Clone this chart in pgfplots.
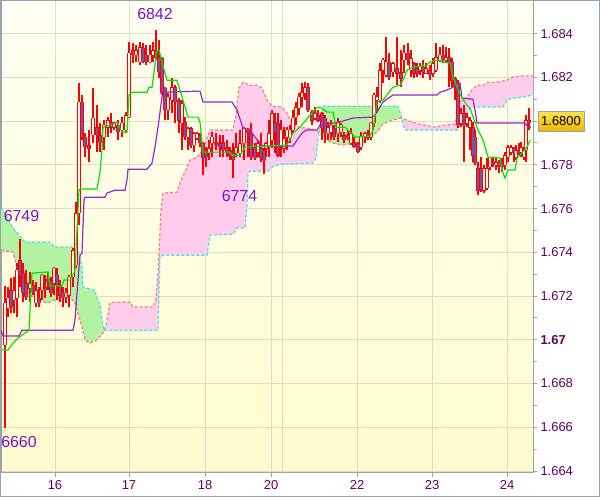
\documentclass[border=0pt]{standalone}
\usepackage{pgfplots}
\pgfplotsset{compat=1.18}
\usepackage{pgfplotstable}
\usepackage{fontspec}
\setmainfont{Liberation Sans}

\definecolor{bgtop}{RGB}{255,255,242}
\definecolor{bgbot}{RGB}{255,251,206}
\definecolor{gridc}{RGB}{222,222,198}
\definecolor{framec}{RGB}{152,164,172}
\definecolor{lblc}{RGB}{96,0,96}
\definecolor{annc}{RGB}{128,16,200}
\definecolor{cloudg}{RGB}{178,242,160}
\definecolor{cloudp}{RGB}{255,204,236}
\definecolor{spanS}{RGB}{240,128,128}
\definecolor{spanC}{RGB}{64,224,240}
\definecolor{tenkan}{RGB}{0,228,0}
\definecolor{kijun}{RGB}{150,40,200}
\definecolor{downfill}{RGB}{125,80,160}
\definecolor{upfill}{RGB}{255,253,228}
\definecolor{goldtop}{RGB}{255,226,80}
\definecolor{goldbot}{RGB}{238,182,0}

\pgfplotstableread{
x o h l c
5 1.66976 1.67246 1.66596 1.67168
8 1.67145 1.67241 1.67104 1.67191
11 1.67227 1.67282 1.67122 1.67150
14 1.67182 1.67287 1.67122 1.67227
17 1.67191 1.67351 1.67104 1.67319
20 1.67364 1.67460 1.67241 1.67296
23 1.67305 1.67351 1.67172 1.67214
26 1.67259 1.67319 1.67182 1.67195
30 1.67236 1.67310 1.67172 1.67259
33 1.67250 1.67273 1.67204 1.67218
36 1.67168 1.67264 1.67150 1.67227
39 1.67191 1.67241 1.67150 1.67168
42 1.67227 1.67300 1.67182 1.67296
45 1.67241 1.67296 1.67191 1.67227
48 1.67278 1.67310 1.67227 1.67264
51 1.67264 1.67287 1.67195 1.67214
54 1.67259 1.67332 1.67204 1.67328
57 1.67296 1.67328 1.67182 1.67250
60 1.67250 1.67273 1.67172 1.67204
63 1.67214 1.67241 1.67150 1.67195
66 1.67195 1.67236 1.67168 1.67214
69 1.67204 1.67296 1.67150 1.67287
73 1.67287 1.67419 1.67241 1.67410
76 1.67342 1.67630 1.67328 1.67579
79 1.67579 1.68174 1.67524 1.68087
82 1.68087 1.68119 1.67913 1.67927
85 1.67927 1.67945 1.67835 1.67881
89 1.67890 1.67959 1.67812 1.67876
93 1.67936 1.68151 1.67899 1.68014
97 1.67972 1.68073 1.67858 1.67936
100 1.67936 1.67991 1.67858 1.67899
104 1.67927 1.68004 1.67867 1.67982
108 1.67972 1.68018 1.67927 1.68004
111 1.67995 1.68036 1.67945 1.67972
114 1.67972 1.67995 1.67959 1.67991
118 1.67982 1.68004 1.67913 1.67950
122 1.67959 1.68018 1.67927 1.67991
126 1.67959 1.68041 1.67945 1.68027
129 1.68018 1.68361 1.68014 1.68311
133 1.68324 1.68357 1.68265 1.68302
136 1.68302 1.68347 1.68270 1.68324
140 1.68270 1.68361 1.68256 1.68338
143 1.68334 1.68357 1.68265 1.68270
146 1.68302 1.68347 1.68256 1.68270
150 1.68270 1.68347 1.68265 1.68302
153 1.68302 1.68361 1.68270 1.68324
156 1.68324 1.68416 1.68279 1.68292
159 1.68292 1.68370 1.68196 1.68224
162 1.68288 1.68292 1.68119 1.68132
165 1.68151 1.68155 1.68004 1.68050
168 1.68050 1.68128 1.68004 1.68110
172 1.68096 1.68196 1.68036 1.68155
175 1.68155 1.68164 1.67991 1.68087
179 1.68096 1.68105 1.67945 1.68004
182 1.67991 1.68096 1.67867 1.68082
185 1.67995 1.68018 1.67913 1.67927
188 1.67927 1.67972 1.67867 1.67968
191 1.67968 1.67972 1.67876 1.67890
194 1.67890 1.67950 1.67858 1.67945
197 1.67922 1.67950 1.67913 1.67945
200 1.67936 1.67945 1.67881 1.67899
203 1.67899 1.67904 1.67753 1.67831
206 1.67867 1.67881 1.67790 1.67835
209 1.67854 1.67913 1.67822 1.67876
212 1.67899 1.67950 1.67835 1.67927
216 1.67904 1.67945 1.67867 1.67890
220 1.67899 1.67936 1.67835 1.67881
223 1.67904 1.67936 1.67835 1.67867
227 1.67881 1.67913 1.67835 1.67854
230 1.67867 1.67881 1.67822 1.67844
233 1.67858 1.67899 1.67739 1.67822
236 1.67854 1.67945 1.67835 1.67881
240 1.67854 1.67959 1.67835 1.67899
244 1.67899 1.67972 1.67822 1.67968
248 1.67959 1.67968 1.67835 1.67945
251 1.67945 1.67991 1.67822 1.67835
255 1.67881 1.67899 1.67822 1.67831
258 1.67858 1.67913 1.67835 1.67899
261 1.67876 1.67945 1.67812 1.67831
264 1.67867 1.67876 1.67758 1.67822
266 1.67876 1.67904 1.67835 1.67899
269 1.67881 1.68004 1.67835 1.67945
272 1.67913 1.68050 1.67876 1.68036
275 1.67995 1.68036 1.67854 1.67950
278 1.67991 1.68036 1.67835 1.67844
281 1.67890 1.68004 1.67835 1.67959
284 1.67876 1.67972 1.67854 1.67922
287 1.67927 1.67972 1.67867 1.67959
290 1.67922 1.67982 1.67899 1.67959
293 1.67959 1.68050 1.67945 1.68014
296 1.68018 1.68087 1.67982 1.68064
299 1.68059 1.68128 1.68027 1.68110
302 1.68110 1.68174 1.68064 1.68132
305 1.68128 1.68178 1.68096 1.68155
308 1.68155 1.68174 1.68041 1.68050
312 1.68041 1.68050 1.67982 1.68004
315 1.68014 1.68064 1.68004 1.68036
318 1.68027 1.68050 1.67995 1.68004
322 1.68036 1.68041 1.67913 1.67968
325 1.68014 1.68027 1.67899 1.67945
328 1.67945 1.67995 1.67913 1.67972
331 1.67950 1.68004 1.67913 1.67982
334 1.67968 1.67982 1.67913 1.67927
338 1.67945 1.68014 1.67904 1.67995
341 1.67950 1.67991 1.67927 1.67982
344 1.67936 1.67950 1.67899 1.67913
348 1.67936 1.67959 1.67913 1.67922
351 1.67899 1.67968 1.67890 1.67945
354 1.67904 1.67927 1.67876 1.67881
358 1.67899 1.67904 1.67854 1.67858
361 1.67881 1.67950 1.67867 1.67927
365 1.67927 1.67950 1.67899 1.67945
368 1.67945 1.67959 1.67913 1.67922
371 1.67927 1.67995 1.67913 1.67991
374 1.67991 1.68128 1.67972 1.68119
377 1.68096 1.68155 1.68036 1.68110
380 1.68096 1.68265 1.68082 1.68233
383 1.68233 1.68288 1.68174 1.68279
386 1.68210 1.68384 1.68201 1.68270
389 1.68270 1.68311 1.68187 1.68201
393 1.68224 1.68270 1.68201 1.68265
397 1.68242 1.68384 1.68164 1.68219
401 1.68224 1.68324 1.68155 1.68196
404 1.68279 1.68347 1.68219 1.68311
408 1.68311 1.68357 1.68256 1.68279
411 1.68233 1.68324 1.68201 1.68288
414 1.68265 1.68270 1.68196 1.68219
417 1.68242 1.68265 1.68201 1.68219
420 1.68233 1.68265 1.68210 1.68247
423 1.68247 1.68279 1.68196 1.68224
426 1.68219 1.68265 1.68219 1.68242
430 1.68233 1.68256 1.68187 1.68210
433 1.68219 1.68288 1.68201 1.68265
436 1.68233 1.68357 1.68224 1.68292
440 1.68279 1.68338 1.68270 1.68302
443 1.68302 1.68347 1.68265 1.68279
446 1.68279 1.68338 1.68270 1.68292
449 1.68292 1.68334 1.68155 1.68265
452 1.68270 1.68288 1.68155 1.68187
455 1.68196 1.68201 1.68096 1.68164
458 1.68174 1.68187 1.67968 1.67982
461 1.67991 1.68059 1.67972 1.68036
464 1.68036 1.68073 1.67812 1.67982
467 1.67991 1.68036 1.67972 1.68018
470 1.67972 1.68018 1.67867 1.68004
473 1.67972 1.67995 1.67812 1.67844
475 1.67927 1.67959 1.67799 1.67808
478 1.67785 1.67812 1.67662 1.67684
481 1.67785 1.67835 1.67675 1.67684
484 1.67684 1.67799 1.67671 1.67785
487 1.67694 1.67831 1.67684 1.67785
490 1.67790 1.67835 1.67776 1.67831
493 1.67812 1.67835 1.67790 1.67799
496 1.67799 1.67831 1.67776 1.67812
499 1.67812 1.67822 1.67762 1.67790
502 1.67808 1.67831 1.67767 1.67790
505 1.67799 1.67858 1.67776 1.67844
508 1.67835 1.67890 1.67812 1.67881
511 1.67858 1.67890 1.67844 1.67881
514 1.67876 1.67881 1.67812 1.67854
516 1.67835 1.67890 1.67822 1.67867
519 1.67867 1.67899 1.67844 1.67854
521 1.67858 1.67904 1.67835 1.67881
524 1.67835 1.67881 1.67822 1.67867
526 1.67867 1.68027 1.67812 1.68004
529 1.68004 1.68059 1.67959 1.67991
}\candles

\pgfplotstableread{
x p
2 1.66953
8 1.66953
13 1.66985
18 1.67008
29 1.67044
31 1.67227
32 1.67305
48 1.67310
50 1.67246
62 1.67246
64 1.67273
70 1.67273
72 1.67287
75 1.67319
77 1.67502
79 1.67684
80 1.67689
97 1.67689
100 1.67767
102 1.67867
103 1.67972
113 1.67986
117 1.67995
122 1.67950
127 1.67950
129 1.68119
132 1.68132
147 1.68132
149 1.68155
152 1.68155
157 1.68324
159 1.68324
162 1.68270
167 1.68187
177 1.68187
182 1.68110
188 1.68018
198 1.68018
200 1.67995
203 1.67858
230 1.67858
232 1.67844
240 1.67844
245 1.67881
287 1.67890
293 1.67945
300 1.67972
310 1.68027
316 1.68059
320 1.68064
327 1.68041
333 1.68041
336 1.67972
345 1.67972
348 1.67959
355 1.67927
370 1.67931
373 1.67959
377 1.68087
383 1.68096
393 1.68155
400 1.68164
403 1.68187
407 1.68233
413 1.68247
427 1.68256
430 1.68270
437 1.68279
443 1.68270
450 1.68265
453 1.68201
457 1.68155
462 1.68105
467 1.68073
470 1.68059
475 1.67995
478 1.67959
483 1.67913
488 1.67835
500 1.67831
502 1.67776
505 1.67739
508 1.67776
515 1.67776
517 1.67831
520 1.67844
527 1.67881
530 1.67913
}\tenkan

\pgfplotstableread{
x p
1 1.67044
3 1.67017
19 1.67017
22 1.67044
73 1.67044
75 1.67090
78 1.67273
80 1.67387
82 1.67396
84 1.67639
85 1.67652
105 1.67652
107 1.67671
115 1.67684
125 1.67684
127 1.67730
128 1.67780
147 1.67780
152 1.67808
155 1.67881
158 1.67972
162 1.68110
163 1.68132
200 1.68137
203 1.68087
232 1.68087
237 1.68050
243 1.67968
250 1.67959
255 1.67927
260 1.67899
263 1.67886
293 1.67886
297 1.67913
303 1.67950
307 1.67959
317 1.67959
320 1.67982
328 1.67986
343 1.68000
353 1.68014
373 1.68018
377 1.68041
383 1.68087
390 1.68110
393 1.68119
437 1.68119
440 1.68132
447 1.68142
453 1.68155
458 1.68174
460 1.68174
462 1.68105
473 1.68100
475 1.68050
477 1.67991
525 1.67991
528 1.67972
531 1.67972
}\kijun

\pgfplotstableread{
x p
1 1.67410
13 1.67401
17 1.67332
23 1.67227
33 1.67195
47 1.67168
60 1.67191
70 1.67195
75 1.67168
78 1.67122
82 1.67058
85 1.66999
90 1.66985
97 1.66999
103 1.67031
106 1.67067
110 1.67168
113 1.67172
130 1.67172
133 1.67150
153 1.67150
156 1.67182
158 1.67296
161 1.67593
163 1.67671
177 1.67675
180 1.67721
185 1.67767
190 1.67822
197 1.67835
203 1.67867
207 1.67922
210 1.67959
233 1.67959
236 1.68027
239 1.68151
243 1.68178
250 1.68164
257 1.68164
262 1.68151
267 1.68096
272 1.68068
282 1.68064
287 1.68036
292 1.67986
300 1.67972
313 1.67963
320 1.67945
323 1.67927
327 1.67913
333 1.67899
343 1.67890
353 1.67899
363 1.67904
370 1.67927
377 1.67950
382 1.67982
387 1.67995
393 1.68004
400 1.68014
407 1.68004
415 1.67991
425 1.67982
435 1.67972
445 1.67982
455 1.67986
460 1.68087
467 1.68110
472 1.68142
477 1.68164
483 1.68164
488 1.68178
497 1.68178
507 1.68187
513 1.68201
520 1.68206
533 1.68206
}\spanS

\pgfplotstableread{
x p
1 1.67607
13 1.67511
25 1.67447
50 1.67447
55 1.67424
72 1.67424
78 1.67410
82 1.67332
83 1.67241
95 1.67227
97 1.67191
100 1.67159
102 1.67090
104 1.67044
158 1.67044
159 1.67227
160 1.67387
207 1.67387
210 1.67479
233 1.67483
237 1.67511
245 1.67511
247 1.67616
248 1.67762
250 1.67771
268 1.67771
272 1.67790
280 1.67803
313 1.67808
316 1.67831
318 1.67913
320 1.67982
323 1.68068
398 1.68068
401 1.68027
404 1.67968
407 1.67959
457 1.67959
462 1.67991
467 1.68041
472 1.68064
503 1.68064
507 1.68096
513 1.68105
523 1.68110
533 1.68119
}\spanC

% cloud areas (span S and span C between their crossings)
\pgfplotstableread{
x p
1 1.67410
13 1.67401
17 1.67332
23 1.67227
33 1.67195
47 1.67168
60 1.67191
70 1.67195
75 1.67168
78 1.67122
82 1.67058
85 1.66999
90 1.66985
97 1.66999
103 1.67031
104 1.67044
102 1.67090
100 1.67159
97 1.67191
95 1.67227
83 1.67241
82 1.67332
78 1.67410
72 1.67424
55 1.67424
50 1.67447
25 1.67447
13 1.67511
1 1.67607
}\cloudA

\pgfplotstableread{
x p
104 1.67044
106 1.67067
110 1.67168
113 1.67172
130 1.67172
133 1.67150
153 1.67150
156 1.67182
158 1.67296
161 1.67593
163 1.67671
177 1.67675
180 1.67721
185 1.67767
190 1.67822
197 1.67835
203 1.67867
207 1.67922
210 1.67959
233 1.67959
236 1.68027
239 1.68151
243 1.68178
250 1.68164
257 1.68164
262 1.68151
267 1.68096
272 1.68068
282 1.68064
287 1.68036
292 1.67986
300 1.67972
313 1.67963
319 1.67948
318 1.67913
316 1.67831
313 1.67808
280 1.67803
272 1.67790
268 1.67771
250 1.67771
248 1.67762
247 1.67616
245 1.67511
237 1.67511
233 1.67483
210 1.67479
207 1.67387
160 1.67387
159 1.67227
158 1.67044
}\cloudB

\pgfplotstableread{
x p
319 1.67948
320 1.67982
323 1.68068
398 1.68068
401 1.68027
402 1.68010
400 1.68014
393 1.68004
387 1.67995
382 1.67982
377 1.67950
370 1.67927
363 1.67904
353 1.67899
343 1.67890
333 1.67899
327 1.67913
323 1.67927
320 1.67945
}\cloudC

\pgfplotstableread{
x p
402 1.68010
407 1.68004
415 1.67991
425 1.67982
435 1.67972
445 1.67982
455 1.67986
460 1.68087
467 1.68110
472 1.68142
477 1.68164
483 1.68164
488 1.68178
497 1.68178
507 1.68187
513 1.68201
520 1.68206
533 1.68206
533 1.68119
523 1.68110
513 1.68105
507 1.68096
503 1.68064
472 1.68064
467 1.68041
462 1.67991
457 1.67959
407 1.67959
404 1.67968
}\cloudD

\begin{document}
\begin{tikzpicture}
\useasboundingbox (0,0) rectangle (600bp,497bp);
\fill[white] (0,0) rectangle (600bp,497bp);
\begin{axis}[
  at={(1bp,24bp)}, anchor=south west,
  scale only axis, width=532bp, height=472bp,
  xmin=1, xmax=533, ymin=1.66391, ymax=1.68549,
  axis background/.style={top color=bgtop, bottom color=bgbot},
  axis line style={draw=framec, line width=1bp},
  xtick={55,129,205,271,357,432,507},
  xticklabels={16,17,18,20,22,23,24},
  extra x ticks={282}, extra x tick labels={},
  extra x tick style={major tick length=0pt},
  ytick={1.664,1.666,1.668,1.670,1.672,1.674,1.676,1.678,1.680,1.682,1.684},
  yticklabels={1.664,1.666,1.668,\textbf{1.67},1.672,1.674,1.676,1.678,{},1.682,1.684},
  minor y tick num=1,
  scaled y ticks=false,
  tick align=outside, xtick pos=bottom, ytick pos=right,
  major tick length=4bp, minor tick length=4bp,
  tick style={draw=framec, line width=1bp},
  grid=major, major grid style={draw=gridc, line width=1bp},
  ticklabel style={font=\fontsize{13}{15}\selectfont, text=lblc},
]
% cloud
\addplot [fill=cloudg, draw=none] table [x=x, y=p] {\cloudA};
\addplot [fill=cloudp, draw=none] table [x=x, y=p] {\cloudB};
\addplot [fill=cloudg, draw=none] table [x=x, y=p] {\cloudC};
\addplot [fill=cloudp, draw=none] table [x=x, y=p] {\cloudD};
\addplot [spanS, line width=1.2bp, dash pattern=on 3bp off 2bp] table [x=x, y=p] {\spanS};
\addplot [spanC, line width=1.2bp, dash pattern=on 3bp off 2bp] table [x=x, y=p] {\spanC};
% candles: wicks
\addplot [draw=none, error bars/.cd, y dir=plus, y explicit, error mark=none,
  error bar style={draw=red, line width=1.1bp}]
  table [x=x, y=l, y error plus expr=\thisrow{h}-\thisrow{l}] {\candles};
% bodies
\addplot [draw=none, error bars/.cd, y dir=plus, y explicit, error mark=none,
  error bar style={draw=red, line width=3.6bp}]
  table [x=x, y expr={min(\thisrow{o},\thisrow{c})-0.000015},
         y error plus expr={abs(\thisrow{c}-\thisrow{o})+0.00003}] {\candles};
% up bodies inner
\addplot [draw=none, restrict expr to domain={\thisrow{c}-\thisrow{o}}{0.00008:1},
  error bars/.cd, y dir=plus, y explicit, error mark=none,
  error bar style={draw=upfill, line width=1.3bp}]
  table [x=x, y expr={\thisrow{o}+0.00002},
         y error plus expr={\thisrow{c}-\thisrow{o}-0.00004}] {\candles};
% down bodies inner
\addplot [draw=none, restrict expr to domain={\thisrow{o}-\thisrow{c}}{0.00008:1},
  error bars/.cd, y dir=plus, y explicit, error mark=none,
  error bar style={draw=downfill, line width=1.3bp}]
  table [x=x, y expr={\thisrow{c}+0.00002},
         y error plus expr={\thisrow{o}-\thisrow{c}-0.00004}] {\candles};
% indicator lines
\addplot [kijun, line width=1.2bp] table [x=x, y=p] {\kijun};
\addplot [tenkan, line width=1.2bp] table [x=x, y=p] {\tenkan};
\end{axis}
\begin{axis}[
  at={(1bp,24bp)}, anchor=south west,
  scale only axis, width=532bp, height=472bp,
  xmin=1, xmax=533, ymin=1.66391, ymax=1.68549,
  hide axis, clip=false,
]
\addplot [draw=none, forget plot] coordinates {(1,1.67) (533,1.68)};
\node[text=annc, font=\fontsize{16}{18}\selectfont] at (axis cs:155,1.68491) {6842};
\node[text=annc, font=\fontsize{16}{18}\selectfont] at (axis cs:239.5,1.67657) {6774};
\node[text=annc, font=\fontsize{16}{18}\selectfont] at (axis cs:21.5,1.67566) {6749};
\node[text=annc, font=\fontsize{16}{18}\selectfont] at (axis cs:19,1.66532) {6660};
\node[anchor=west, draw=framec, top color=goldtop, bottom color=goldbot,
  minimum height=20bp, inner xsep=3bp, inner ysep=0pt,
  font=\fontsize{13}{15}\selectfont] at ([xshift=5bp]axis cs:533,1.680) {1.6800};
\end{axis}
\draw[framec, line width=1bp] (0.5bp,0.5bp) rectangle (599.5bp,496.5bp);
\end{tikzpicture}
\end{document}
